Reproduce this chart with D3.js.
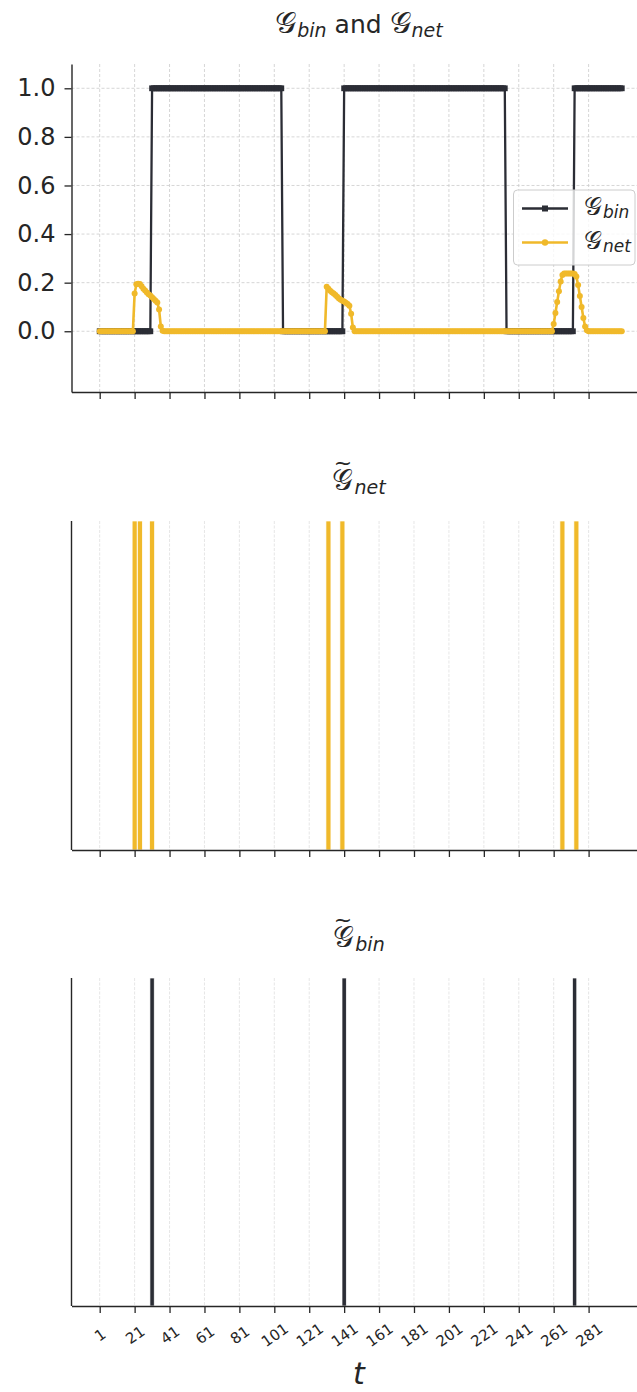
<!DOCTYPE html>
<html>
<head>
<meta charset="utf-8">
<script src="https://cdn.jsdelivr.net/npm/d3@7/dist/d3.min.js"></script>
<style>
  html, body { margin: 0; padding: 0; background: #ffffff; }
  svg { display: block; font-family: "DejaVu Sans", sans-serif; }
</style>
</head>
<body>
<svg id="chart" width="637" height="1392"></svg>
<script>
// ---------------- data ----------------
const tFirst = 1;
const tLast = 300;
const xTickValues = [1, 21, 41, 61, 81, 101, 121, 141, 161, 181, 201, 221, 241, 261, 281];
const xTickLabels = ["1", "21", "41", "61", "81", "101", "121", "141", "161", "181", "201", "221", "241", "261", "281"];
const yTickValues = [0.0, 0.2, 0.4, 0.6, 0.8, 1.0];
const yTickLabels = ["0.0", "0.2", "0.4", "0.6", "0.8", "1.0"];

// G_bin as runs: [from t, to t, value]
const gBinRuns = [[1, 30, 0], [31, 105, 1], [106, 140, 0], [141, 233, 1], [234, 272, 0], [273, 300, 1]];

// G_net: zero everywhere except these bumps (start t, values for consecutive t)
const gNetBump1Start = 21;
const gNetBump1 = [0.155, 0.193, 0.196, 0.195, 0.185, 0.175, 0.168, 0.160, 0.152, 0.147, 0.140, 0.133, 0.126, 0.118, 0.090, 0.020, 0.002];
const gNetBump2Start = 131;
const gNetBump2 = [0.183, 0.175, 0.167, 0.161, 0.155, 0.149, 0.142, 0.135, 0.130, 0.126, 0.122, 0.117, 0.112, 0.105, 0.072, 0.015];
const gNetBump3Start = 261;
const gNetBump3 = [0.030, 0.075, 0.120, 0.165, 0.205, 0.232, 0.238, 0.238, 0.238, 0.238, 0.238, 0.238, 0.236, 0.225, 0.190, 0.145, 0.100, 0.055, 0.020, 0.004];

// change points
const gNetChanges = [21, 24, 31, 132, 140, 266, 274];
const gBinChanges = [31, 141, 273];

// ---------------- build series ----------------
const tAll = d3.range(tFirst, tLast + 1);
const gBin = tAll.map(t => {
  const r = gBinRuns.find(r => t >= r[0] && t <= r[1]);
  return { t, v: r ? r[2] : 0 };
});
const netMap = new Map();
[[gNetBump1Start, gNetBump1], [gNetBump2Start, gNetBump2], [gNetBump3Start, gNetBump3]].forEach(([s, arr]) => {
  arr.forEach((v, i) => netMap.set(s + i, v));
});
const gNet = tAll.map(t => ({ t, v: netMap.has(t) ? netMap.get(t) : 0 }));

// ---------------- style ----------------
const cBin = "#2b2d35";
const cNet = "#f0b92a";
const cText = "#262626";

const svg = d3.select("#chart");

const x = d3.scaleLinear().domain([1, 281]).range([99.7, 588.6]);
const axLeft = 71.5, axRight = 652;
const xAx = x.copy().domain([x.invert(axLeft), x.invert(axRight)]).range([axLeft, axRight]);

const panels = [
  { top: 64, bottom: 392, titleY: 33 },
  { top: 521, bottom: 850, titleY: 490 },
  { top: 978, bottom: 1306, titleY: 947 }
];

// ---------------- panel 1 ----------------
const p1 = panels[0];
const y1 = d3.scaleLinear().domain([-0.25, 1.1]).range([p1.bottom, p1.top]);
const g1 = svg.append("g");

// grid
g1.append("g").selectAll("line.v").data(xTickValues).join("line")
  .attr("x1", d => x(d)).attr("x2", d => x(d))
  .attr("y1", p1.top).attr("y2", p1.bottom)
  .attr("stroke", "#cccccc").attr("stroke-width", 0.8).attr("stroke-dasharray", "3,2");
g1.append("g").selectAll("line.h").data(yTickValues).join("line")
  .attr("x1", axLeft).attr("x2", 637)
  .attr("y1", d => y1(d)).attr("y2", d => y1(d))
  .attr("stroke", "#cccccc").attr("stroke-width", 0.8).attr("stroke-dasharray", "3,2");

// lines
const line1 = d3.line().x(d => x(d.t)).y(d => y1(d.v));
g1.append("path").datum(gBin).attr("d", line1)
  .attr("fill", "none").attr("stroke", cBin).attr("stroke-width", 2.3).attr("stroke-linejoin", "round");
g1.append("g").selectAll("rect").data(gBin).join("rect")
  .attr("x", d => x(d.t) - 2.9).attr("y", d => y1(d.v) - 2.9)
  .attr("width", 5.8).attr("height", 5.8).attr("fill", cBin);

g1.append("path").datum(gNet).attr("d", line1)
  .attr("fill", "none").attr("stroke", cNet).attr("stroke-width", 2.6).attr("stroke-linejoin", "round");
g1.append("g").selectAll("circle").data(gNet).join("circle")
  .attr("cx", d => x(d.t)).attr("cy", d => y1(d.v)).attr("r", 3.0).attr("fill", cNet);

// axes
const yAxis1 = g1.append("g").attr("transform", `translate(${axLeft},0)`)
  .call(d3.axisLeft(y1.copy()).tickValues(yTickValues).tickFormat((d, i) => yTickLabels[i]).tickSize(7).tickPadding(9).tickSizeOuter(0));
yAxis1.select(".domain").attr("stroke", cText).attr("stroke-width", 1.4);
yAxis1.selectAll(".tick line").attr("stroke", cText).attr("stroke-width", 1.3);
yAxis1.selectAll(".tick text").attr("fill", cText).attr("font-size", 24).attr("font-family", "DejaVu Sans");

// legend
const lg = g1.append("g");
lg.append("rect").attr("x", 513.5).attr("y", 190).attr("width", 121.5).attr("height", 75).attr("rx", 4)
  .attr("fill", "#ffffff").attr("fill-opacity", 0.8).attr("stroke", "#cccccc").attr("stroke-width", 1);
const legItems = [
  { sub: "bin", color: cBin, y: 208.5, marker: "square" },
  { sub: "net", color: cNet, y: 242.5, marker: "circle" }
];
legItems.forEach(it => {
  lg.append("line").attr("x1", 522).attr("x2", 568).attr("y1", it.y).attr("y2", it.y)
    .attr("stroke", it.color).attr("stroke-width", 2.3);
  if (it.marker === "square") {
    lg.append("rect").attr("x", 545 - 3).attr("y", it.y - 3).attr("width", 6).attr("height", 6).attr("fill", it.color);
  } else {
    lg.append("circle").attr("cx", 545).attr("cy", it.y).attr("r", 3.2).attr("fill", it.color);
  }
  const tx = lg.append("text").attr("x", 584).attr("y", it.y + 6).attr("fill", cText).attr("font-size", 25);
  tx.append("tspan").text("𝒢");
  tx.append("tspan").attr("font-style", "italic").attr("font-size", 17).attr("dy", 3).attr("dx", 1).text(it.sub);
});

// title 1
const t1 = svg.append("text").attr("x", 359).attr("y", p1.titleY).attr("text-anchor", "middle")
  .attr("fill", cText).attr("font-size", 25);
t1.append("tspan").attr("font-size", 30).text("𝒢");
t1.append("tspan").attr("font-style", "italic").attr("font-size", 19).attr("dy", 4).attr("dx", 1).text("bin");
t1.append("tspan").attr("dy", -4).text(" and ");
t1.append("tspan").attr("font-size", 30).text("𝒢");
t1.append("tspan").attr("font-style", "italic").attr("font-size", 19).attr("dy", 4).attr("dx", 1).text("net");

// ---------------- panels 2 and 3 ----------------
function eventPanel(p, events, color, width, sub) {
  const g = svg.append("g");
  g.append("g").selectAll("line").data(xTickValues).join("line")
    .attr("x1", d => x(d)).attr("x2", d => x(d))
    .attr("y1", p.top).attr("y2", p.bottom)
    .attr("stroke", "#e3e3e3").attr("stroke-width", 0.9).attr("stroke-dasharray", "3,1.5");
  g.append("g").selectAll("rect").data(events).join("rect")
    .attr("x", d => x(d) - width / 2).attr("y", p.top)
    .attr("width", width).attr("height", p.bottom - p.top)
    .attr("fill", color).attr("stroke", "#ffffff").attr("stroke-width", 0.7);
  g.append("line").attr("x1", axLeft).attr("x2", axLeft).attr("y1", p.top).attr("y2", p.bottom)
    .attr("stroke", cText).attr("stroke-width", 1.4);
  // title with tilde (one text element)
  const tt = svg.append("text").attr("x", 359).attr("y", p.titleY).attr("text-anchor", "middle")
    .attr("fill", cText).attr("font-size", 24);
  tt.append("tspan").attr("font-size", 29).text("𝒢");
  tt.append("tspan").attr("font-style", "italic").attr("font-size", 19).attr("dy", 4).attr("dx", 1).text(sub);
  tt.append("tspan").attr("x", 343).attr("y", p.titleY - 20).attr("font-size", 22).text("~");
  return g;
}

eventPanel(panels[1], gNetChanges, cNet, 5.0, "net");
eventPanel(panels[2], gBinChanges, cBin, 4.3, "bin");

// x axes for all panels
panels.forEach((p, i) => {
  const ax = svg.append("g").attr("transform", `translate(0,${p.bottom})`)
    .call(d3.axisBottom(xAx).tickValues(xTickValues).tickFormat((d, k) => i === 2 ? xTickLabels[k] : "").tickSize(7).tickSizeOuter(0));
  ax.select(".domain").attr("stroke", cText).attr("stroke-width", 1.4);
  ax.selectAll(".tick line").attr("stroke", cText).attr("stroke-width", 1.3);
  if (i === 2) {
    ax.selectAll(".tick text")
      .attr("fill", cText).attr("font-size", 15).attr("font-family", "DejaVu Sans")
      .attr("text-anchor", "middle")
      .attr("transform", "translate(0,29) rotate(-35)")
      .attr("y", 0).attr("dy", "0.35em");
  }
});

// x label
svg.append("text").attr("x", 359).attr("y", 1384).attr("text-anchor", "middle")
  .attr("fill", cText).attr("font-size", 30).attr("font-style", "italic").text("t");
</script>
</body>
</html>
